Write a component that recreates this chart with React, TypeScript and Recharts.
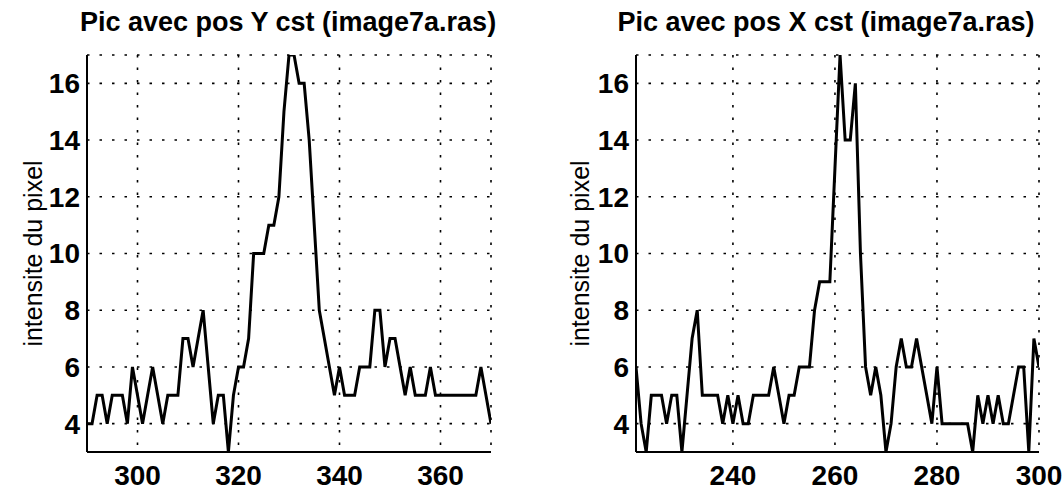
import { LineChart, Line, XAxis, YAxis, CartesianGrid } from 'recharts';

// positions en x (colonne) pour le pic a Y constant
const posY = [
  290, 291, 292, 293, 294, 295, 296, 297, 298, 299,
  300, 301, 302, 303, 304, 305, 306, 307, 308, 309,
  310, 311, 312, 313, 314, 315, 316, 317, 318, 319,
  320, 321, 322, 323, 324, 325, 326, 327, 328, 329,
  330, 331, 332, 333, 334, 335, 336, 337, 338, 339,
  340, 341, 342, 343, 344, 345, 346, 347, 348, 349,
  350, 351, 352, 353, 354, 355, 356, 357, 358, 359,
  360, 361, 362, 363, 364, 365, 366, 367, 368, 369, 370,
];
const intensiteY = [
  4, 4, 5, 5, 4, 5, 5, 5, 4, 6,
  5, 4, 5, 6, 5, 4, 5, 5, 5, 7,
  7, 6, 7, 8, 6, 4, 5, 5, 3, 5,
  6, 6, 7, 10, 10, 10, 11, 11, 12, 15,
  17, 17, 16, 16, 14, 11, 8, 7, 6, 5,
  6, 5, 5, 5, 6, 6, 6, 8, 8, 6,
  7, 7, 6, 5, 6, 5, 5, 5, 6, 5,
  5, 5, 5, 5, 5, 5, 5, 5, 6, 5, 4,
];

// positions en y (ligne) pour le pic a X constant
const posX = [
  221, 222, 223, 224, 225, 226, 227, 228, 229, 230,
  231, 232, 233, 234, 235, 236, 237, 238, 239, 240,
  241, 242, 243, 244, 245, 246, 247, 248, 249, 250,
  251, 252, 253, 254, 255, 256, 257, 258, 259, 260,
  261, 262, 263, 264, 265, 266, 267, 268, 269, 270,
  271, 272, 273, 274, 275, 276, 277, 278, 279, 280,
  281, 282, 283, 284, 285, 286, 287, 288, 289, 290,
  291, 292, 293, 294, 295, 296, 297, 298, 299, 300,
];
const intensiteX = [
  6, 4, 3, 5, 5, 5, 4, 5, 5, 3,
  5, 7, 8, 5, 5, 5, 5, 4, 5, 4,
  5, 4, 4, 5, 5, 5, 5, 6, 5, 4,
  5, 5, 6, 6, 6, 8, 9, 9, 9, 13,
  17, 14, 14, 16, 10, 6, 5, 6, 5, 3,
  4, 6, 7, 6, 6, 7, 6, 5, 4, 6,
  4, 4, 4, 4, 4, 4, 3, 5, 4, 5,
  4, 5, 4, 4, 5, 6, 6, 3, 7, 6,
];

const yTicks = [4, 6, 8, 10, 12, 14, 16];
const ticksY = [300, 320, 340, 360];
const ticksX = [240, 260, 280, 300];

const FONT = '"Liberation Sans", Arial, Helvetica, sans-serif';
const tickStyle = { fontSize: 28, fontWeight: 'bold', fill: '#000', fontFamily: FONT };
const axisStroke = { stroke: '#000', strokeWidth: 2 };

interface PicProps {
  pos: number[];
  vals: number[];
  xDomain: [number, number];
  xTicks: number[];
  margin: { top: number; right: number; left: number; bottom: number };
  labelOffset: number;
  width: number;
}

function PicChart({ pos, vals, xDomain, xTicks, margin, labelOffset, width }: PicProps) {
  const data = pos.map((p, i) => ({ pos: p, val: vals[i] }));
  return (
    <LineChart width={width} height={493} data={data} margin={margin}>
      <CartesianGrid stroke="#000" strokeWidth={1.6} strokeDasharray="2.5 10" />
      <XAxis
        dataKey="pos"
        type="number"
        domain={xDomain}
        ticks={xTicks}
        allowDataOverflow
        height={35}
        axisLine={axisStroke}
        tickLine={false}
        tickSize={5}
        tickMargin={8}
        tick={tickStyle}
      />
      {/* cadre du haut avec petites graduations vers l'interieur */}
      <XAxis
        xAxisId="top"
        orientation="top"
        type="number"
        domain={xDomain}
        ticks={xTicks}
        height={0}
        mirror
        tick={false}
        tickSize={5}
        tickLine={{ stroke: '#000', strokeWidth: 1.5 }}
        axisLine={axisStroke}
      />
      <YAxis
        type="number"
        domain={[3, 17]}
        ticks={yTicks}
        allowDataOverflow
        width={60}
        axisLine={axisStroke}
        tickLine={false}
        tickSize={5}
        tickMargin={2}
        tick={tickStyle}
        label={{
          value: 'intensite du pixel',
          angle: -90,
          position: 'insideLeft',
          offset: labelOffset,
          style: { textAnchor: 'middle', fontSize: 25, fill: '#000', fontFamily: FONT },
        }}
      />
      <YAxis
        yAxisId="right"
        orientation="right"
        type="number"
        domain={[3, 17]}
        ticks={yTicks}
        width={0}
        mirror
        tick={false}
        tickSize={5}
        tickLine={{ stroke: '#000', strokeWidth: 1.5 }}
        axisLine={axisStroke}
      />
      <Line
        type="linear"
        dataKey="val"
        stroke="#000"
        strokeWidth={3}
        dot={false}
        isAnimationActive={false}
      />
    </LineChart>
  );
}

const titleStyle = {
  position: 'absolute' as const,
  top: 9,
  fontFamily: FONT,
  fontWeight: 'bold' as const,
  fontSize: 27,
  lineHeight: '27px',
  whiteSpace: 'nowrap' as const,
  transform: 'translateX(-50%)',
  color: '#000',
};

export default function App() {
  return (
    <div style={{ position: 'absolute', left: 0, top: 0, width: 1062, height: 493, background: '#fff' }}>
      <div style={{ ...titleStyle, left: 288 }}>Pic avec pos Y cst (image7a.ras)</div>
      <div style={{ ...titleStyle, left: 826 }}>Pic avec pos X cst (image7a.ras)</div>
      <div style={{ position: 'absolute', left: 0, top: 0 }}>
        <PicChart
          pos={posY}
          vals={intensiteY}
          xDomain={[290, 370]}
          xTicks={ticksY}
          width={520}
          margin={{ top: 55, right: 29, left: 27, bottom: 6 }}
          labelOffset={6}
        />
      </div>
      <div style={{ position: 'absolute', left: 540, top: 0 }}>
        <PicChart
          pos={posX}
          vals={intensiteX}
          xDomain={[221, 300]}
          xTicks={ticksX}
          width={522}
          margin={{ top: 55, right: 23, left: 36, bottom: 6 }}
          labelOffset={4}
        />
      </div>
    </div>
  );
}
